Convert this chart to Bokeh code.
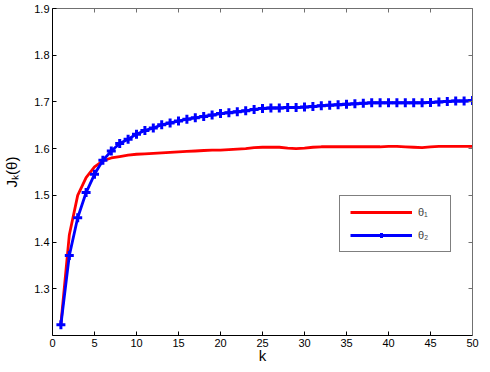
from bokeh.plotting import figure
from bokeh.models import Range1d, LinearAxis, FixedTicker, Legend, LegendItem
from bokeh.embed import file_html
from bokeh.resources import INLINE

k = list(range(1, 51))
theta1 = [1.225, 1.415, 1.500, 1.538, 1.561, 1.574, 1.580, 1.583, 1.586, 1.588,
          1.589, 1.590, 1.591, 1.592, 1.593, 1.594, 1.595, 1.596, 1.597, 1.597,
          1.598, 1.599, 1.600, 1.602, 1.603, 1.603, 1.603, 1.601, 1.600, 1.601,
          1.603, 1.604, 1.604, 1.604, 1.604, 1.604, 1.604, 1.604, 1.604, 1.605,
          1.605, 1.604, 1.603, 1.602, 1.604, 1.605, 1.605, 1.605, 1.605, 1.605]
theta2 = [1.223, 1.371, 1.452, 1.506, 1.545, 1.575, 1.595, 1.611, 1.620, 1.631,
          1.639, 1.644, 1.651, 1.655, 1.659, 1.663, 1.666, 1.669, 1.672, 1.675,
          1.677, 1.679, 1.681, 1.684, 1.686, 1.687, 1.687, 1.688, 1.688, 1.689,
          1.690, 1.692, 1.693, 1.694, 1.695, 1.696, 1.697, 1.698, 1.698, 1.698,
          1.698, 1.698, 1.698, 1.698, 1.699, 1.700, 1.701, 1.702, 1.702, 1.703]
x_ticks = [0, 5, 10, 15, 20, 25, 30, 35, 40, 45, 50]
y_ticks = [1.3, 1.4, 1.5, 1.6, 1.7, 1.8, 1.9]
series_names = ["θ₁", "θ₂"]

FONT = "Liberation Sans"

p = figure(frame_width=420, frame_height=327, output_backend="svg", toolbar_location=None,
           x_range=Range1d(0, 50), y_range=Range1d(1.2, 1.9),
           min_border_left=47, min_border_right=10, min_border_top=16,
           min_border_bottom=20, background_fill_color="white",
           border_fill_color="white", outline_line_color=None)
p.styles = {"margin-top": "-8px", "margin-bottom": "-8px"}
p.grid.visible = False

for ax in p.xaxis + p.yaxis:
    ax.major_tick_in = 4
    ax.major_tick_out = 0
    ax.minor_tick_line_color = None
    ax.axis_line_color = "black"
    ax.major_tick_line_color = "black"
    ax.major_label_text_font = FONT
    ax.major_label_text_font_size = "11px"
    ax.major_label_text_color = "black"
    ax.axis_label_text_font = FONT
    ax.axis_label_text_font_size = "15px"
    ax.axis_label_text_font_style = "normal"
    ax.axis_label_text_color = "black"

p.xaxis.ticker = FixedTicker(ticks=x_ticks)
p.yaxis.ticker = FixedTicker(ticks=y_ticks)
p.xaxis.axis_label = "k"
p.xaxis.major_label_standoff = 3
p.xaxis.axis_label_standoff = -3
p.yaxis.axis_label = "Jₖ(θ)"
p.yaxis.major_label_standoff = 3
p.yaxis.axis_label_standoff = 11

top = LinearAxis(ticker=FixedTicker(ticks=x_ticks), major_label_text_font_size="1px",
                 major_label_text_color=None, major_label_standoff=0,
                 major_tick_in=4, major_tick_out=0,
                 minor_tick_line_color=None, axis_line_color="#707070",
                 major_tick_line_color="#707070")
right = LinearAxis(ticker=FixedTicker(ticks=y_ticks), major_label_text_font_size="1px",
                   major_label_text_color=None, major_label_standoff=0,
                   major_tick_in=4, major_tick_out=0,
                   minor_tick_line_color=None, axis_line_color="#707070",
                   major_tick_line_color="#707070")
p.add_layout(top, "above")
p.add_layout(right, "right")

r1 = p.line(k, theta1, line_color="#ff0000", line_width=2.8)
r2 = p.line(k, theta2, line_color="#0000ff", line_width=2.8)
r3 = p.scatter(k, theta2, marker="cross", size=9, line_color="#0000ff", line_width=3)

legend = Legend(items=[LegendItem(label=series_names[0], renderers=[r1]),
                       LegendItem(label=series_names[1], renderers=[r2, r3])],
                location=(287, 83), margin=0, padding=10, spacing=11,
                glyph_width=62, glyph_height=12, label_standoff=6, label_width=22,
                label_text_font=FONT, label_text_font_size="11px",
                border_line_color="black", border_line_width=1,
                background_fill_color="white", background_fill_alpha=1.0)
p.add_layout(legend, "center")

open("out.html", "w").write(file_html(p, INLINE))
